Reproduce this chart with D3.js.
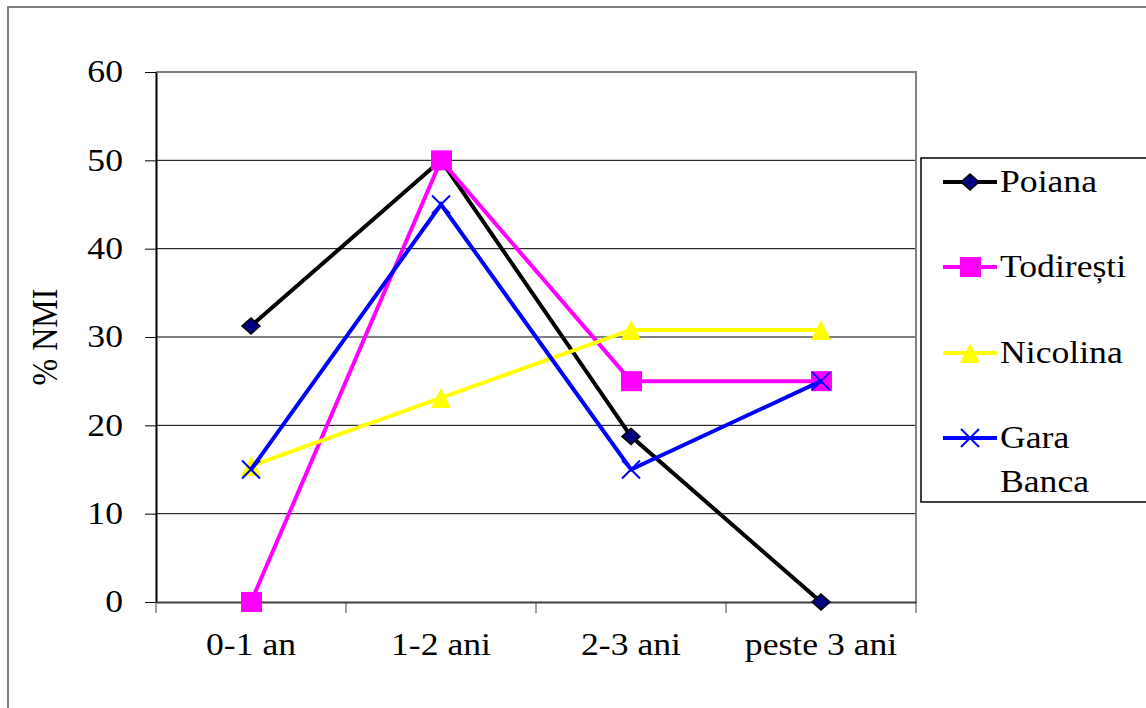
<!DOCTYPE html>
<html>
<head>
<meta charset="utf-8">
<script src="https://cdn.jsdelivr.net/npm/d3@7"></script>
</head>
<body style="margin:0">
<svg id="fig" width="1146" height="708"></svg>
<script>
const categories = ['0-1 an', '1-2 ani', '2-3 ani', 'peste 3 ani'];
const poiana = [31.25, 50, 18.75, 0];
const todiresti = [0, 50, 25, 25];
const nicolina = [15.4, 23.1, 30.8, 30.8];
const garaBanca = [15, 45, 15, 25];
const yTicks = [0, 10, 20, 30, 40, 50, 60];

const series = [
  { name: 'Poiana', values: poiana, color: '#000000', marker: 'diamond' },
  { name: 'Todirești', values: todiresti, color: '#ff00ff', marker: 'square' },
  { name: 'Nicolina', values: nicolina, color: '#ffff00', marker: 'triangle' },
  { name: 'Gara Banca', values: garaBanca, color: '#0000ff', marker: 'cross' }
];

// the original picture is a bit wider than tall, text looks stretched
const SX = 1.15;
const FS = 31;
const FONT = '"Liberation Serif"';

const svg = d3.select('#fig');

function serif(sel, size) {
  sel.style('font-family', FONT).style('font-size', size + 'px');
  return sel;
}

// outer frame
svg.append('rect')
  .attr('x', 8).attr('y', 7)
  .attr('width', 1150).attr('height', 710)
  .attr('fill', 'none').attr('stroke', '#808080').attr('stroke-width', 2);

const plotL = 156, plotR = 916, plotT = 72, plotB = 602;

const x = d3.scaleBand().domain(categories).range([plotL, plotR]);
const y = d3.scaleLinear().domain([0, 60]).range([plotB, plotT]);

// gridlines
svg.append('g')
  .selectAll('line')
  .data(yTicks.filter(d => d > 0 && d < 60))
  .enter().append('line')
  .attr('x1', plotL).attr('x2', plotR)
  .attr('y1', d => y(d)).attr('y2', d => y(d))
  .attr('stroke', '#000').attr('stroke-width', 1);

// plot border top / right
svg.append('path')
  .attr('d', `M${plotL},${y(60)}H${plotR}V${plotB}`)
  .attr('fill', 'none').attr('stroke', '#808080').attr('stroke-width', 2);

// y axis
const yAxis = svg.append('g')
  .attr('transform', `translate(${plotL},0)`)
  .call(d3.axisLeft(y).tickValues(yTicks).tickSize(11).tickPadding(22).tickSizeOuter(0));
yAxis.attr('font-family', null).attr('font-size', null);
serif(yAxis.selectAll('text'), FS)
  .attr('fill', '#000')
  .attr('x', -33 / SX)
  .attr('transform', `scale(${SX},1)`);
yAxis.selectAll('line').attr('stroke', '#000');
yAxis.select('.domain').attr('stroke', '#000').attr('stroke-width', 2);

// x axis
const xAxis = svg.append('g')
  .attr('transform', `translate(0,${plotB})`)
  .call(d3.axisBottom(x).tickSize(0).tickPadding(31).tickSizeOuter(0));
xAxis.attr('font-family', null).attr('font-size', null);
serif(xAxis.selectAll('text'), FS)
  .attr('fill', '#000')
  .attr('transform', `scale(${SX},1)`);
xAxis.select('.domain').attr('stroke', '#404040').attr('stroke-width', 2);
// category boundary ticks
svg.append('g')
  .selectAll('line')
  .data(d3.range(categories.length + 1))
  .enter().append('line')
  .attr('x1', i => plotL + i * x.step()).attr('x2', i => plotL + i * x.step())
  .attr('y1', plotB).attr('y2', plotB + 11)
  .attr('stroke', '#404040').attr('stroke-width', 1);

// y label
serif(svg.append('text'), 32)
  .attr('transform', `translate(57,${(plotT + plotB) / 2}) scale(${SX},1) rotate(-90)`)
  .attr('text-anchor', 'middle')
  .text('% NMI');

const cx = c => x(c) + x.bandwidth() / 2;

function drawMarker(g, type, color) {
  if (type === 'diamond') {
    g.append('path').attr('d', 'M0,-8L9,0L0,8L-9,0Z')
      .attr('fill', '#000080').attr('stroke', '#000').attr('stroke-width', 1.5);
  } else if (type === 'square') {
    g.append('rect').attr('x', -10).attr('y', -10).attr('width', 21).attr('height', 20)
      .attr('fill', color);
  } else if (type === 'triangle') {
    g.append('path').attr('d', 'M0,-10L10,10L-10,10Z').attr('fill', color);
  } else if (type === 'cross') {
    g.append('path').attr('d', 'M-9,-9L9,9M-9,9L9,-9')
      .attr('stroke', color).attr('stroke-width', 2).attr('fill', 'none');
  }
}

const line = d3.line().x((d, i) => cx(categories[i])).y(d => y(d));

series.forEach(s => {
  svg.append('path')
    .datum(s.values)
    .attr('d', line)
    .attr('fill', 'none')
    .attr('stroke', s.color)
    .attr('stroke-width', 4);
  s.values.forEach((v, i) => {
    const g = svg.append('g').attr('transform', `translate(${cx(categories[i])},${y(v)})`);
    drawMarker(g, s.marker, s.color);
  });
});

// legend
svg.append('rect')
  .attr('x', 921).attr('y', 158)
  .attr('width', 240).attr('height', 344)
  .attr('fill', '#fff').attr('stroke', '#000').attr('stroke-width', 1.5);

const legendY = [182, 267, 353, 438];
series.forEach((s, i) => {
  const ly = legendY[i];
  svg.append('line')
    .attr('x1', 943).attr('x2', 997).attr('y1', ly).attr('y2', ly)
    .attr('stroke', s.color).attr('stroke-width', 4);
  const g = svg.append('g').attr('transform', `translate(970,${ly})`);
  drawMarker(g, s.marker, s.color);
  const words = s.name === 'Gara Banca' ? ['Gara', 'Banca'] : [s.name];
  const t = serif(svg.append('text'), FS)
    .attr('transform', `translate(1000,${ly + 10}) scale(${SX},1)`);
  words.forEach((w, j) => {
    t.append('tspan').attr('x', 0).attr('dy', j === 0 ? 0 : 44).text(w);
  });
});
</script>
</body>
</html>
